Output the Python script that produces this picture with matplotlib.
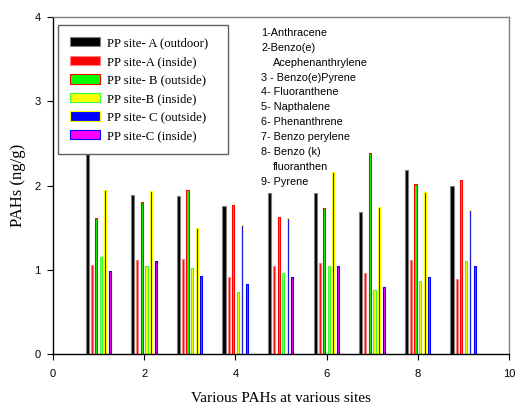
import numpy as np
import matplotlib
matplotlib.use("Agg")
import matplotlib.pyplot as plt

# valores (ng/g), um por PAH (1..9)
pahs = np.arange(1, 10)
site_a_out = [2.60, 1.89, 1.87, 1.76, 1.91, 1.91, 1.69, 2.18, 1.99]
site_a_in = [1.06, 1.12, 1.13, 0.91, 1.05, 1.08, 0.96, 1.12, 0.89]
site_b_out = [1.62, 1.80, 1.95, 1.77, 1.63, 1.73, 2.39, 2.02, 2.06]
site_b_in = [1.15, 1.05, 1.02, 0.74, 0.96, 1.05, 0.76, 0.87, 1.10]
site_c_out = [1.95, 1.94, 1.50, 1.53, 1.61, 2.16, 1.74, 1.92, 1.71]
site_c_in = [0.98, 1.10, 0.93, 0.83, 0.91, 1.05, 0.80, 0.91, 1.04]

series = [
    ("PP site- A (outdoor)", site_a_out, "black", "#808080", 0.07),
    ("PP site-A (inside)", site_a_in, "red", "#ff8080", 0.045),
    ("PP site- B (outside)", site_b_out, "#00ff00", "red", 0.045),
    ("PP site-B (inside)", site_b_in, "yellow", "#33ff33", 0.045),
    ("PP site- C (outside)", site_c_out, "blue", "yellow", 0.045),
    ("PP site-C (inside)", site_c_in, "magenta", "blue", 0.045),
]
offsets = [-0.25, -0.15, -0.05, 0.05, 0.15, 0.25]

# (texto, recuo em px)
names = [("1-Anthracene", 0), ("2-Benzo(e)", 0), ("Acephenanthrylene", 12),
         ("3 - Benzo(e)Pyrene", 0), ("4- Fluoranthene", 0), ("5- Napthalene", 0),
         ("6- Phenanthrene", 0), ("7- Benzo perylene", 0), ("8- Benzo (k)", 0),
         ("fluoranthen", 12), ("9- Pyrene", 0)]

W, H = 515, 407
fig = plt.figure(figsize=(W / 100, H / 100), dpi=100)
ax = fig.add_axes([53 / W, 1 - 354 / H, 456 / W, 337 / H])

for (lab, vals, fc, ec, w), off in zip(series, offsets):
    ax.bar(pahs + off, vals, width=w, color=fc, edgecolor=ec, linewidth=0.8,
           label=lab, zorder=2)

ax.set_xlim(0, 10)
ax.set_ylim(0, 4)
ax.set_xticks([0, 2, 4, 6, 8, 10])
ax.set_yticks([0, 1, 2, 3, 4])
ax.tick_params(direction="out", length=4, width=0.8, labelsize=8)
ax.tick_params(axis="x", pad=7)
ax.tick_params(axis="y", pad=5)
for t in ax.get_xticklabels() + ax.get_yticklabels():
    t.set_fontfamily("Liberation Sans")
ax.spines["top"].set_color("#808080")
ax.spines["right"].set_color("#808080")
for s in ax.spines.values():
    s.set_linewidth(1.0)

ax.set_xlabel("Various PAHs at various sites", fontfamily="Liberation Serif",
              fontsize=11, labelpad=9)
ax.set_ylabel("PAHs (ng/g)", fontfamily="Liberation Serif", fontsize=12, labelpad=6)

# caixa da legenda: x 58..228 px, y 25..152 px
x0 = (58 - 53) / 456
y0 = (354 - 152) / 337
leg = ax.legend(loc="upper left", bbox_to_anchor=(x0, y0, 170 / 456, 127 / 337),
                mode="expand", borderaxespad=0, fancybox=False, framealpha=1,
                prop={"family": "Liberation Serif", "size": 9.2},
                handlelength=2.3, handleheight=0.75, labelspacing=0.5,
                handletextpad=0.55, borderpad=0.95)
leg.get_frame().set_edgecolor("#606060")
leg.get_frame().set_linewidth(1.0)
leg.set_zorder(5)

for i, (nm, ind) in enumerate(names):
    fig.text((261 + ind) / W, 1 - (33 + i * 14.87) / H, nm, fontfamily="Liberation Sans",
             fontsize=7.8, va="center", ha="left")

fig.savefig("out.png", dpi=100)
